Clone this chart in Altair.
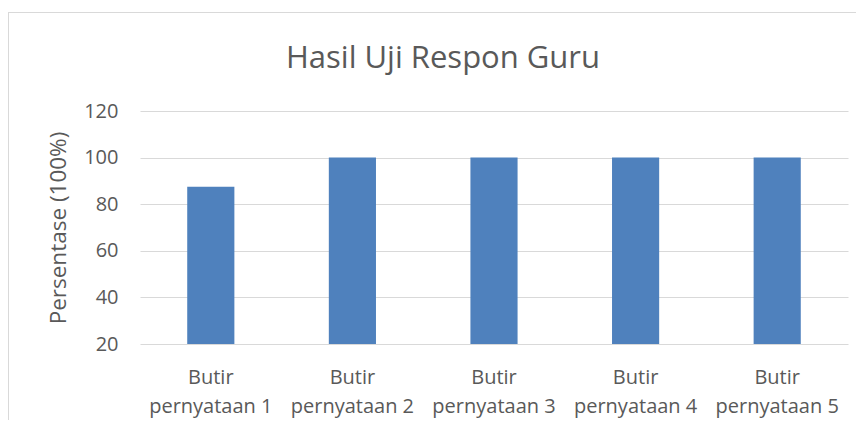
import altair as alt
import pandas as pd

categories = ["Butir pernyataan 1", "Butir pernyataan 2", "Butir pernyataan 3",
              "Butir pernyataan 4", "Butir pernyataan 5"]
values = [87.5, 100, 100, 100, 100]
y_ticks = [20, 40, 60, 80, 100, 120]

df = pd.DataFrame({"kategori": categories, "persentase": values})

TEXT = "#595959"
FONT = "Open Sans"

bars = alt.Chart(df).mark_bar(
    color="#4f81bd", width=alt.RelativeBandSize(0.333)
).encode(
    x=alt.X("kategori:N", sort=categories,
            scale=alt.Scale(paddingInner=0, paddingOuter=0),
            axis=alt.Axis(title=None, labelAngle=0, domain=False, ticks=False,
                          labelPadding=23.5, labelLineHeight=29.4,
                          labelExpr="[substring(datum.label, 0, 5), substring(datum.label, 6)]")),
    y=alt.Y("persentase:Q",
            scale=alt.Scale(domain=[20, 120], zero=False, nice=False),
            axis=alt.Axis(title="Persentase (100%)", values=y_ticks, domain=False,
                          ticks=False, labelPadding=22, titlePadding=13)),
    y2=alt.datum(20),
)

frame = alt.Chart(df).mark_rect(
    fillOpacity=0, stroke="#d9d9d9", strokeWidth=1
).encode(
    x=alt.value(-131.5), x2=alt.value(760),
    y=alt.value(-98.5), y2=alt.value(400),
)

chart = alt.layer(frame, bars).properties(
    width=708, height=233,
    padding={"left": 132, "top": 103, "right": 8, "bottom": 76},
    autosize=alt.AutoSizeParams(type="none"),
    title=alt.TitleParams("Hasil Uji Respon Guru", font=FONT, fontSize=31,
                          fontWeight="normal", color=TEXT, anchor="middle",
                          dx=-51, dy=87, baseline="alphabetic", offset=0),
).configure_view(stroke=None).configure_axis(
    labelFont=FONT, labelFontSize=20, labelColor=TEXT,
    titleFont=FONT, titleFontSize=22.5, titleColor=TEXT, titleFontWeight="normal",
    gridColor="#d9d9d9", gridWidth=1.2,
).configure_axisX(grid=False).configure_axisY(grid=True)

chart.save("out.html", embed_options={"renderer": "svg", "actions": False})
